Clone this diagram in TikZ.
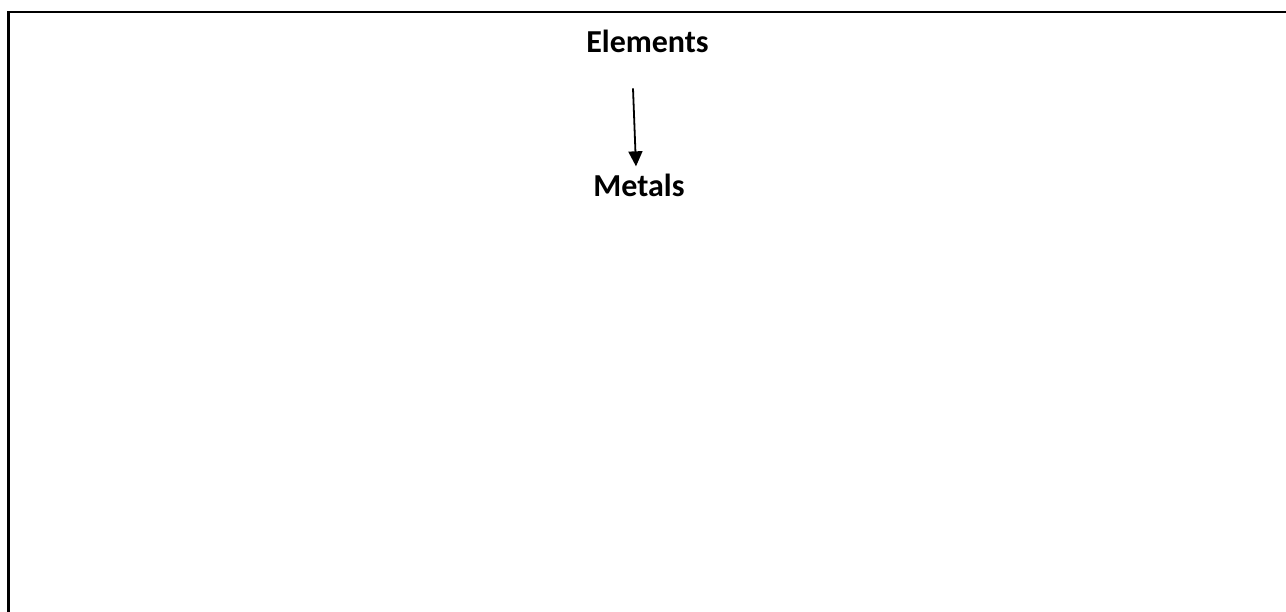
\documentclass[tikz,border=0pt]{standalone}
\usepackage{fontspec}
\setmainfont{Carlito}
\usetikzlibrary{arrows.meta}
\tikzset{
  label/.style={font=\bfseries\fontsize{32}{38}\selectfont, inner sep=0pt, anchor=base},
  frame/.style={line width=2.6pt},
  flow/.style={line width=1.8pt, -{Triangle[length=15pt,width=14pt]}}
}
\begin{document}
\begin{tikzpicture}[x=1pt,y=-1pt]
  \useasboundingbox (0,0) rectangle (1286,612);
  % open frame: top and left edges
  \draw[frame] (1290,12) -- (8.5,12) -- (8.5,616);
  % labels
  \node[label] (e) at (647.5,53) {Elements};
  \node[label] (m) at (639,197) {Metals};
  % arrow from Elements down to Metals
  \draw[flow] ([xshift=-14.5pt,yshift=-35pt]e.south) -- ([xshift=-3pt,yshift=8pt]m.north);
\end{tikzpicture}
\end{document}
